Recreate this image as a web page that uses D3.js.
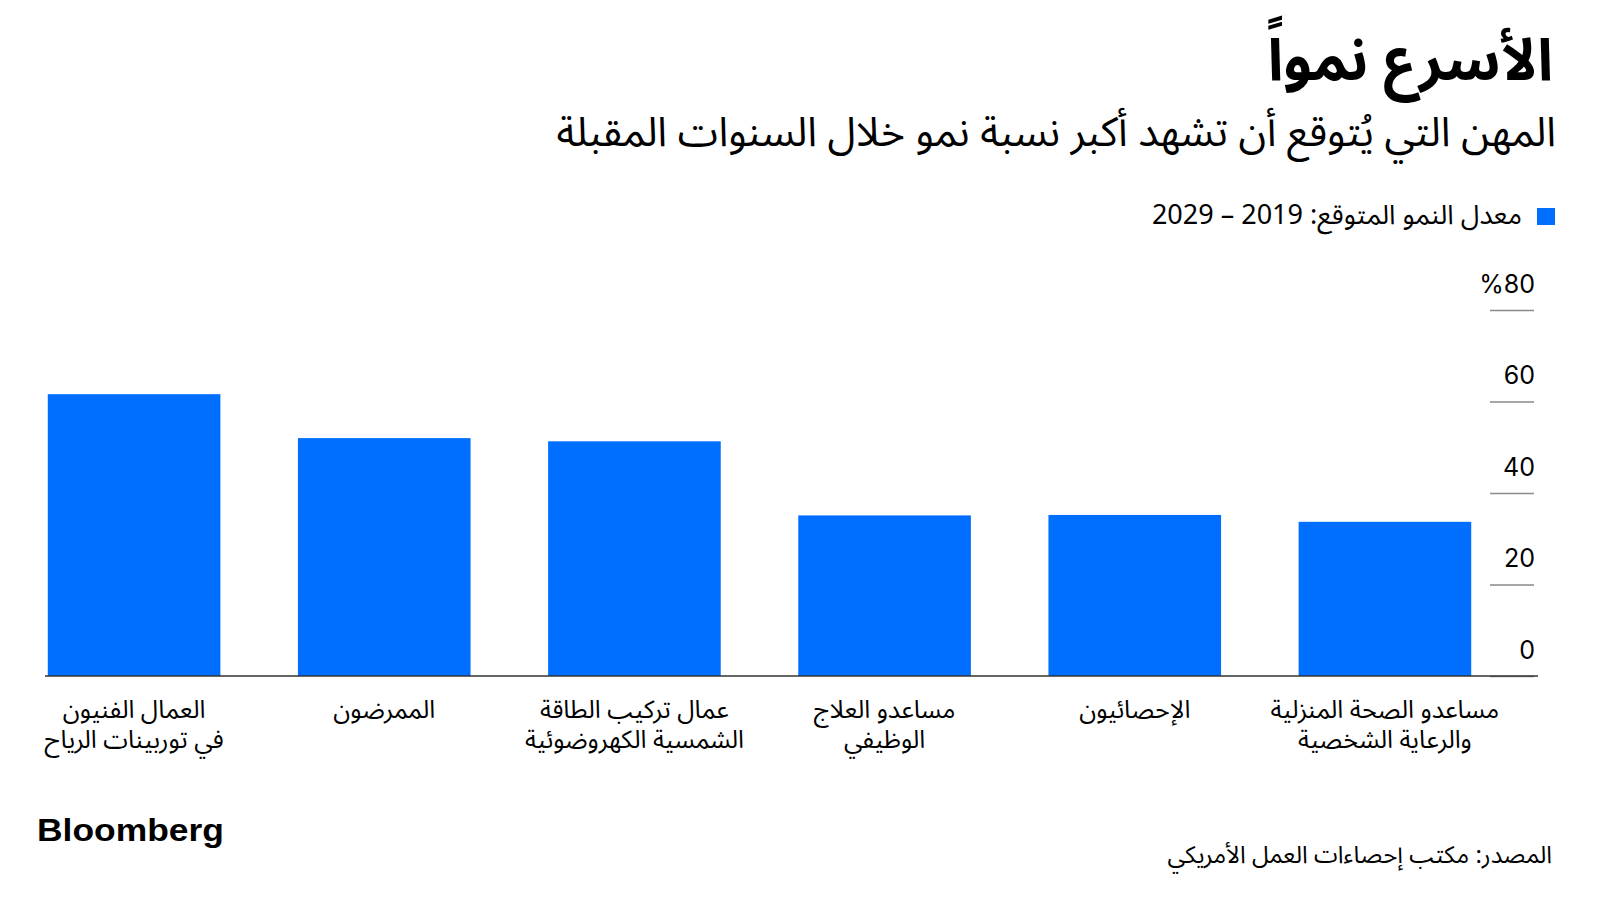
<!DOCTYPE html>
<html>
<head>
<meta charset="utf-8">
<script src="https://cdn.jsdelivr.net/npm/d3@7"></script>
<style>
  html, body { margin: 0; padding: 0; background: #fff; }
  svg { display: block; }
  .ar { font-family: "Noto Sans Arabic", "Noto Sans", "DejaVu Sans", sans-serif; }
</style>
</head>
<body>
<svg id="chart" width="1600" height="900"></svg>
<script>
// ---- data ----
const categories = [
  ["العمال الفنيون", "في توربينات الرياح"],
  ["الممرضون"],
  ["عمال تركيب الطاقة", "الشمسية الكهروضوئية"],
  ["مساعدو العلاج", "الوظيفي"],
  ["الإحصائيون"],
  ["مساعدو الصحة المنزلية", "والرعاية الشخصية"]
];
const values = [61.6, 52.0, 51.3, 35.1, 35.2, 33.7];
const yTicks = [0, 20, 40, 60, 80];
const yTickLabels = ["0", "20", "40", "60", "%80"];
const title = "الأسرع نمواً";
const subtitle = "المهن التي يُتوقع أن تشهد أكبر نسبة نمو خلال السنوات المقبلة";
const legendLabel = "معدل النمو المتوقع: 2019 – 2029";
const source = "المصدر: مكتب إحصاءات العمل الأمريكي";
const brand = "Bloomberg";

const blue = "#006EFF";
const svg = d3.select("#chart");

// ---- scales ----
const x = d3.scaleBand()
  .domain(d3.range(categories.length))
  .range([9, 1510])
  .paddingInner(0.31)
  .paddingOuter(0.155);
const y = d3.scaleLinear().domain([0, 80]).range([676, 310]);

// ---- header ----
svg.append("text").attr("class", "ar")
  .attr("x", 1553).attr("y", 80)
  .attr("direction", "rtl").attr("text-anchor", "start")
  .attr("font-size", 58).attr("font-weight", 700).attr("fill", "#000")
  .text(title);
svg.append("text").attr("class", "ar")
  .attr("x", 1556).attr("y", 146)
  .attr("direction", "rtl").attr("text-anchor", "start")
  .attr("font-size", 41).attr("fill", "#000")
  .text(subtitle);

// legend
svg.append("rect").attr("x", 1537).attr("y", 208).attr("width", 18).attr("height", 17).attr("fill", blue);
svg.append("text").attr("class", "ar")
  .attr("x", 1522).attr("y", 224)
  .attr("direction", "rtl").attr("text-anchor", "start")
  .attr("font-size", 27).attr("fill", "#000")
  .text(legendLabel);

// ---- y axis (right side) ----
const yAxis = d3.axisLeft(y).tickValues(yTicks).tickSize(44)
  .tickFormat((d, i) => yTickLabels[i]);
const gy = svg.append("g").attr("transform", "translate(1534,0)").call(yAxis);
gy.select(".domain").remove();
gy.selectAll(".tick line").attr("stroke", "#8a8a8a").attr("stroke-width", 1.5);
gy.selectAll(".tick text")
  .attr("x", 1).attr("dy", -18).attr("text-anchor", "end")
  .attr("font-family", "Inter, 'Noto Sans', sans-serif")
  .attr("font-size", 25).attr("fill", "#000");

// ---- bars ----
svg.append("g").selectAll("rect").data(values).join("rect")
  .attr("x", (d, i) => x(i))
  .attr("width", x.bandwidth())
  .attr("y", d => y(d))
  .attr("height", d => y(0) - y(d))
  .attr("fill", blue);

// baseline
svg.append("line").attr("x1", 45).attr("x2", 1538)
  .attr("y1", y(0)).attr("y2", y(0))
  .attr("stroke", "#333").attr("stroke-width", 1.5);

// ---- x labels ----
const xl = svg.append("g").selectAll("text").data(categories).join("text")
  .attr("class", "ar")
  .attr("x", (d, i) => x(i) + x.bandwidth() / 2)
  .attr("y", 718)
  .attr("direction", "rtl").attr("text-anchor", "middle")
  .attr("font-size", 25).attr("fill", "#000");
xl.selectAll("tspan").data(d => d).join("tspan")
  .attr("x", function () { return this.parentNode.getAttribute("x"); })
  .attr("dy", (d, i) => i === 0 ? 0 : 30)
  .text(d => d);

// ---- footer ----
svg.append("text")
  .attr("x", 37).attr("y", 841)
  .attr("font-family", "'Liberation Sans', Arial, sans-serif")
  .attr("font-weight", 700).attr("font-size", 31)
  .attr("textLength", 187).attr("lengthAdjust", "spacingAndGlyphs")
  .attr("fill", "#000")
  .text(brand);
svg.append("text").attr("class", "ar")
  .attr("x", 1552).attr("y", 863)
  .attr("direction", "rtl").attr("text-anchor", "start")
  .attr("font-size", 24).attr("fill", "#000")
  .text(source);
</script>
</body>
</html>
